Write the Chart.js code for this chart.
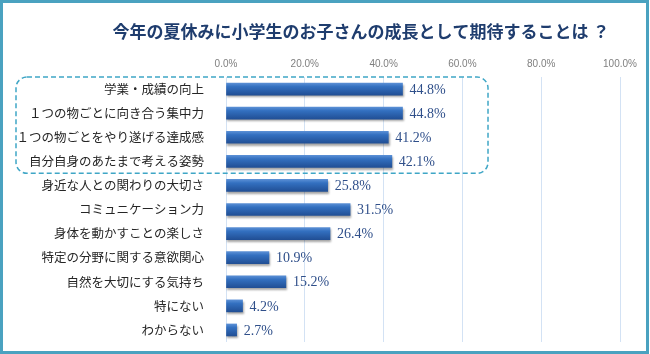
<!DOCTYPE html>
<html>
<head>
<meta charset="utf-8">
<script src="https://cdn.jsdelivr.net/npm/chart.js@4/dist/chart.umd.min.js"></script>
<style>
  html, body { margin: 0; padding: 0; background: #fff; }
  #wrap { width: 650px; height: 354px; position: relative; }
</style>
</head>
<body>
<div id="wrap"><canvas id="summerChart" width="650" height="354"></canvas></div>
<script>
const titleText = '今年の夏休みに小学生のお子さんの成長として期待することは ？';
const categories = [
    '学業・成績の向上',
    '１つの物ごとに向き合う集中力',
    '１つの物ごとをやり遂げる達成感',
    '自分自身のあたまで考える姿勢',
    '身近な人との関わりの大切さ',
    'コミュニケーション力',
    '身体を動かすことの楽しさ',
    '特定の分野に関する意欲関心',
    '自然を大切にする気持ち',
    '特にない',
    'わからない'
];
const percentValues = [44.8, 44.8, 41.2, 42.1, 25.8, 31.5, 26.4, 10.9, 15.2, 4.2, 2.7];
const tickValues = [0, 20, 40, 60, 80, 100];
const highlightRows = [0, 3]; // first..last row inside the dashed box

// frame, title, dashed box, value labels
const decorPlugin = {
    id: 'decor',
    beforeDraw(chart) {
        const ctx = chart.ctx;
        ctx.save();
        ctx.fillStyle = '#ffffff';
        ctx.fillRect(0, 0, chart.width, chart.height);
        ctx.restore();
    },
    beforeDatasetsDraw(chart) {
        const ctx = chart.ctx;
        ctx.save();
        ctx.shadowColor = 'rgba(0,0,0,0.35)';
        ctx.shadowOffsetX = 1;
        ctx.shadowOffsetY = 2;
        ctx.shadowBlur = 2;
    },
    afterDatasetsDraw(chart) {
        chart.ctx.restore();
    },
    afterDraw(chart) {
        const ctx = chart.ctx;
        const xs = chart.scales.x;
        const ys = chart.scales.y;
        ctx.save();

        // outer frame
        ctx.strokeStyle = '#4aa2c0';
        ctx.lineWidth = 3;
        ctx.strokeRect(1.5, 1.5, chart.width - 4, chart.height - 3);

        // title
        ctx.fillStyle = '#1f3d6e';
        ctx.font = 'bold 17px "Noto Sans CJK JP", sans-serif';
        ctx.textAlign = 'center';
        ctx.textBaseline = 'middle';
        ctx.fillText(titleText, 361, 32);

        // dashed highlight box
        const step = ys.getPixelForValue(1) - ys.getPixelForValue(0);
        const top = ys.getPixelForValue(highlightRows[0]) - step / 2;
        const bottom = ys.getPixelForValue(highlightRows[1]) + step / 2;
        const left = 16;
        const right = xs.getPixelForValue(66.5);
        const r = 11;
        ctx.strokeStyle = '#3fa6c6';
        ctx.lineWidth = 1.5;
        ctx.setLineDash([5, 3]);
        ctx.beginPath();
        ctx.moveTo(left + r, top);
        ctx.lineTo(right - r, top);
        ctx.arcTo(right, top, right, top + r, r);
        ctx.lineTo(right, bottom - r);
        ctx.arcTo(right, bottom, right - r, bottom, r);
        ctx.lineTo(left + r, bottom);
        ctx.arcTo(left, bottom, left, bottom - r, r);
        ctx.lineTo(left, top + r);
        ctx.arcTo(left, top, left + r, top, r);
        ctx.closePath();
        ctx.stroke();
        ctx.setLineDash([]);

        // value labels
        ctx.fillStyle = '#2f4f8a';
        ctx.font = '14px "Liberation Serif", serif';
        ctx.textAlign = 'left';
        ctx.textBaseline = 'middle';
        chart.getDatasetMeta(0).data.forEach((bar, i) => {
            ctx.fillText(percentValues[i].toFixed(1) + '%', bar.x + 7, bar.y + 1);
        });
        ctx.restore();
    }
};

function barGradient(context) {
    const chart = context.chart;
    const ys = chart.scales && chart.scales.y;
    if (!chart.chartArea || !ys || context.dataIndex === undefined) return '#2f67b5';
    const cy = ys.getPixelForValue(context.dataIndex);
    const g = chart.ctx.createLinearGradient(0, cy - 6, 0, cy + 6);
    g.addColorStop(0, '#5a8fd5');
    g.addColorStop(0.3, '#3370c0');
    g.addColorStop(1, '#214f95');
    return g;
}

new Chart(document.getElementById('summerChart'), {
    type: 'bar',
    data: {
        labels: categories,
        datasets: [{
            data: percentValues,
            backgroundColor: barGradient,
            borderWidth: 0,
            barThickness: 12
        }]
    },
    options: {
        indexAxis: 'y',
        responsive: false,
        animation: false,
        layout: { padding: { top: 55, right: 30, bottom: 12, left: 0 } },
        plugins: {
            legend: { display: false },
            tooltip: { enabled: false },
            title: { display: false }
        },
        scales: {
            x: {
                position: 'top',
                min: 0,
                max: 100,
                afterFit(scale) { scale.height = 22; },
                afterBuildTicks(scale) { scale.ticks = tickValues.map(v => ({ value: v })); },
                grid: { color: '#d3e2f4', drawTicks: false, lineWidth: 1 },
                border: { display: false },
                ticks: {
                    padding: 7,
                    color: '#7f7f7f',
                    font: { size: 10, family: '"Liberation Sans", sans-serif' },
                    callback: v => Number(v).toFixed(1) + '%'
                }
            },
            y: {
                afterFit(scale) {
                    scale.width = 226;
                    // tick padding should not eat vertical space
                    scale.paddingTop = 0;
                    scale.paddingBottom = 0;
                },
                grid: { display: false },
                border: { display: false },
                ticks: {
                    padding: 14,
                    color: '#262626',
                    font: { size: 12.5, family: '"Noto Sans CJK JP", sans-serif' }
                }
            }
        }
    },
    plugins: [decorPlugin]
});
</script>
</body>
</html>
